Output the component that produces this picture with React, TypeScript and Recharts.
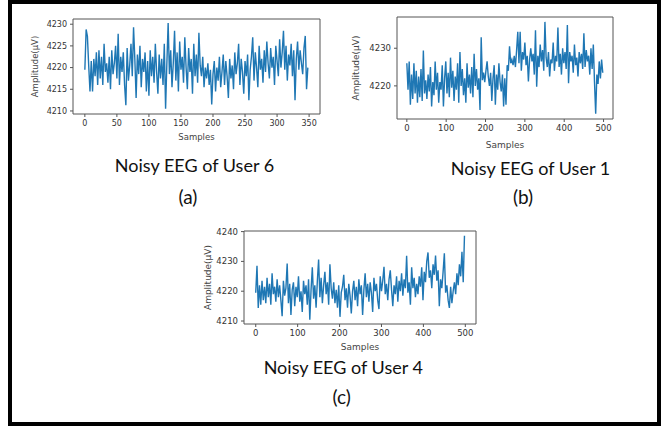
import { LineChart, Line, XAxis, YAxis, ReferenceArea } from 'recharts'

// amplitude readings, one every `step` samples
const user6Step = 2
const user6 = [
  4219.5, 4228.8, 4227.2, 4220.5, 4214.5, 4221.5, 4214.5, 4222, 4218, 4223.5,
  4216, 4224, 4217.5, 4222.5, 4216, 4225.5, 4219, 4221, 4216.5, 4222.5,
  4215, 4224, 4218.5, 4221, 4225, 4217.5, 4227.8, 4216, 4222.5, 4219,
  4223.5, 4216, 4211.3, 4224.5, 4217, 4220.5, 4225.5, 4218, 4229.3, 4222,
  4213, 4223, 4218.5, 4225, 4215.5, 4222, 4219, 4223.5, 4214.5, 4221.5,
  4213.5, 4224, 4218, 4222.5, 4216.5, 4225.5, 4219, 4214, 4223, 4217.5,
  4222, 4216, 4225.5, 4210.5, 4221, 4230.3, 4218.5, 4224, 4215.5, 4221,
  4228.5, 4217, 4223.5, 4214.5, 4226, 4219.5, 4222.5, 4216.5, 4227, 4220,
  4215, 4224.5, 4219, 4222, 4214, 4225.5, 4218, 4223, 4216.5, 4228,
  4220.5, 4218, 4222.5, 4215.5, 4220, 4217.5, 4221, 4216, 4219.5, 4211.5,
  4218.5, 4221.5, 4214.5, 4220, 4217, 4222.5, 4215.5, 4219, 4223, 4216,
  4221.5, 4218, 4213, 4222, 4217.5, 4220.5, 4215, 4223.5, 4218.5, 4221,
  4225.5, 4216, 4222, 4219, 4214, 4221.5, 4218, 4223, 4212.5, 4219.5,
  4222.5, 4227, 4217, 4223.5, 4220, 4215.5, 4225, 4219.5, 4222, 4216.5,
  4224, 4219, 4226, 4221, 4217.5, 4224.5, 4220, 4222.5, 4216, 4225,
  4221.5, 4218, 4226.5, 4220, 4223.5, 4228.5, 4219.5, 4225, 4217, 4223,
  4220.5, 4225.5, 4218, 4224, 4212.5, 4222, 4226, 4219.5, 4224, 4221,
  4218.5, 4224.5, 4227.3, 4215, 4220,
]

const user1Step = 3
const user1 = [
  4226, 4219, 4226.5, 4215, 4223, 4216.5, 4226, 4218, 4224, 4215.5,
  4222.5, 4217, 4224.5, 4216, 4229.4, 4218, 4221.5, 4216.5, 4223, 4218.5,
  4225, 4214.5, 4221, 4217.5, 4226.5, 4219, 4223.5, 4215.5, 4221, 4219,
  4225.5, 4214.5, 4222, 4226.5, 4218, 4223.5, 4217, 4227.5, 4219.5, 4224,
  4216, 4222.5, 4219, 4226, 4215.5, 4229, 4220, 4224.5, 4217.5, 4222,
  4215.5, 4226, 4219.5, 4223, 4218, 4225, 4217, 4228.5, 4220, 4224.5,
  4219, 4222, 4213.6, 4232.9, 4221.5, 4223.5, 4221, 4224, 4226.5, 4222.5,
  4220, 4223.5, 4216, 4222, 4225.5, 4215, 4223, 4219, 4226, 4221,
  4218.5, 4223, 4214.5, 4222, 4215, 4225.5, 4224, 4230.5, 4226, 4227,
  4225.5, 4228, 4225, 4229.5, 4234.4, 4226, 4234.4, 4224, 4229, 4227,
  4231.5, 4225.5, 4228, 4221.2, 4227, 4230, 4226.5, 4228.5, 4223, 4234.8,
  4219.8, 4228, 4225, 4231, 4226.5, 4229.5, 4224, 4237, 4227.5, 4225,
  4229, 4222.5, 4227, 4226, 4231.5, 4224, 4228, 4226.5, 4235.5, 4225,
  4228.5, 4223, 4230, 4226, 4229, 4224.5, 4236.2, 4220.7, 4229, 4226.5,
  4228, 4223.5, 4231, 4225.5, 4227.5, 4222.5, 4229, 4226, 4228.5, 4224.5,
  4234, 4225, 4229.5, 4226.5, 4228, 4223, 4230, 4224.5, 4231, 4221,
  4212.6, 4223, 4220.5, 4226.5, 4222, 4227, 4223.5,
]

const user4Step = 3
const user4 = [
  4219.5, 4228.5, 4214.4, 4222, 4215.5, 4223.5, 4217, 4221.5, 4216, 4224.5,
  4218, 4222.5, 4215.5, 4226, 4219, 4221.5, 4216.5, 4224, 4218, 4222,
  4217, 4211.6, 4223.5, 4218.5, 4221, 4229.3, 4216, 4222.5, 4212, 4220.5,
  4223, 4215, 4221.5, 4218, 4225, 4216.5, 4220, 4213, 4223.5, 4219,
  4222, 4215.5, 4224, 4210.4, 4220.5, 4228, 4217.5, 4222, 4214.5, 4223.5,
  4230.6, 4218, 4224.5, 4216, 4222, 4226.5, 4219, 4223, 4215.5, 4229,
  4221, 4217.5, 4223, 4216, 4220.5, 4214.5, 4222, 4211.4, 4219.5, 4221.5,
  4225.5, 4217, 4221, 4214.5, 4222.5, 4218.5, 4212.5, 4220, 4223.5, 4217,
  4221.5, 4215, 4224, 4219, 4222, 4212, 4220.5, 4226, 4218, 4222.5,
  4216.5, 4223, 4219.5, 4213, 4224.5, 4220, 4222.5, 4217, 4214, 4225,
  4220, 4223.5, 4228.2, 4219, 4222.5, 4217, 4224, 4227, 4220.5, 4215,
  4222, 4219, 4225, 4216.5, 4223.5, 4220, 4226, 4218.5, 4224, 4221,
  4231.9, 4219.5, 4223, 4215.5, 4228, 4221, 4224.5, 4218, 4222.5, 4219,
  4225, 4221.5, 4228, 4217, 4226.5, 4223, 4230, 4233, 4224.5, 4227,
  4221, 4229, 4225.5, 4232, 4223.5, 4227, 4215, 4224, 4221, 4226.5,
  4232.7, 4219.5, 4222, 4217, 4214.4, 4221.5, 4216, 4220, 4223, 4219,
  4226, 4222, 4229, 4225, 4233.2, 4223, 4238.6,
]

const user6XTicks = [0, 50, 100, 150, 200, 250, 300, 350]
const user6YTicks = [4210, 4215, 4220, 4225, 4230]
const user1XTicks = [0, 100, 200, 300, 400, 500]
const user1YTicks = [4220, 4230]
const user4XTicks = [0, 100, 200, 300, 400, 500]
const user4YTicks = [4210, 4220, 4230, 4240]

const toRows = (vals: number[], step: number) =>
  vals.map((v, i) => ({ sample: i * step, amp: v }))

const SPINE = '#555'

function EegPanel({
  rows, left, top, width, height, marginTop, marginRight, yWidth, xHeight,
  xDomain, xTicks, yDomain, yTicks, fontSize, yLabelOffset, xLabelOffset,
}: any) {
  return (
    <div style={{ position: 'absolute', left, top }}>
      <LineChart
        width={width}
        height={height}
        data={rows}
        margin={{ top: marginTop, right: marginRight, left: 0, bottom: 0 }}
      >
        <ReferenceArea
          x1={xDomain[0]}
          x2={xDomain[1]}
          y1={yDomain[0]}
          y2={yDomain[1]}
          fill="none"
          stroke={SPINE}
          strokeWidth={1}
          ifOverflow="visible"
        />
        <XAxis
          type="number"
          dataKey="sample"
          domain={xDomain}
          ticks={xTicks}
          allowDataOverflow
          height={xHeight}
          axisLine={false}
          tickSize={3}
          tickMargin={3}
          tickLine={{ stroke: SPINE }}
          tick={{ fontSize, fill: '#333', fontFamily: 'DejaVu Sans' }}
          label={{
            value: 'Samples',
            position: 'insideBottom',
            offset: xLabelOffset,
            style: { fontSize: fontSize + 0.5, fill: '#444', fontFamily: 'DejaVu Sans' },
          }}
        />
        <YAxis
          type="number"
          domain={yDomain}
          ticks={yTicks}
          allowDataOverflow
          width={yWidth}
          axisLine={false}
          tickSize={3}
          tickMargin={3}
          tickLine={{ stroke: SPINE }}
          tick={{ fontSize, fill: '#333', fontFamily: 'DejaVu Sans' }}
          label={{
            value: 'Amplitude(µV)',
            angle: -90,
            position: 'insideLeft',
            offset: yLabelOffset,
            style: { textAnchor: 'middle', fontSize: fontSize + 0.5, fill: '#444', fontFamily: 'DejaVu Sans' },
          }}
        />
        <Line
          type="linear"
          dataKey="amp"
          stroke="#1f77b4"
          strokeWidth={1.4}
          dot={false}
          isAnimationActive={false}
        />
      </LineChart>
    </div>
  )
}

function Caption({ text, cx, cy, size }: { text: string; cx: number; cy: number; size: number }) {
  return (
    <div
      style={{
        position: 'absolute',
        left: cx - 120,
        top: cy - 12,
        width: 240,
        height: 24,
        lineHeight: '24px',
        textAlign: 'center',
        fontFamily: 'Lato, sans-serif',
        fontSize: size,
        color: '#111',
      }}
    >
      {text}
    </div>
  )
}

export default function App() {
  return (
    <div style={{ position: 'absolute', left: 0, top: 0, width: 662, height: 426, background: '#fff', overflow: 'hidden' }}>
      <div
        style={{
          position: 'absolute',
          left: 8,
          top: 0,
          width: 653,
          height: 426,
          border: '4px solid #000',
          boxSizing: 'border-box',
        }}
      />
      <EegPanel
        rows={toRows(user6, user6Step)}
        left={20} top={0} width={310} height={144}
        marginTop={19} marginRight={10} yWidth={53} xHeight={30}
        xDomain={[-18.5, 367]} xTicks={user6XTicks}
        yDomain={[4209.3, 4231.2]} yTicks={user6YTicks}
        fontSize={8} yLabelOffset={15} xLabelOffset={4}
      />
      <EegPanel
        rows={toRows(user1, user1Step)}
        left={340} top={0} width={281} height={151}
        marginTop={17} marginRight={8} yWidth={57} xHeight={32}
        xDomain={[-25, 524]} xTicks={user1XTicks}
        yDomain={[4211.2, 4238.3]} yTicks={user1YTicks}
        fontSize={8.5} yLabelOffset={16} xLabelOffset={3.5}
      />
      <EegPanel
        rows={toRows(user4, user4Step)}
        left={190} top={215} width={300} height={139}
        marginTop={16} marginRight={14} yWidth={54} xHeight={30}
        xDomain={[-28, 525.5]} xTicks={user4XTicks}
        yDomain={[4209, 4240.2]} yTicks={user4YTicks}
        fontSize={8.5} yLabelOffset={18} xLabelOffset={4}
      />
      <Caption text="Noisy EEG of User 6" cx={194.5} cy={165} size={18} />
      <Caption text="(a)" cx={188} cy={197} size={19} />
      <Caption text="Noisy EEG of User 1" cx={530.5} cy={168} size={18} />
      <Caption text="(b)" cx={523} cy={197} size={19} />
      <Caption text="Noisy EEG of User 4" cx={343.3} cy={366.7} size={18} />
      <Caption text="(c)" cx={341.7} cy={396.7} size={19} />
    </div>
  )
}
